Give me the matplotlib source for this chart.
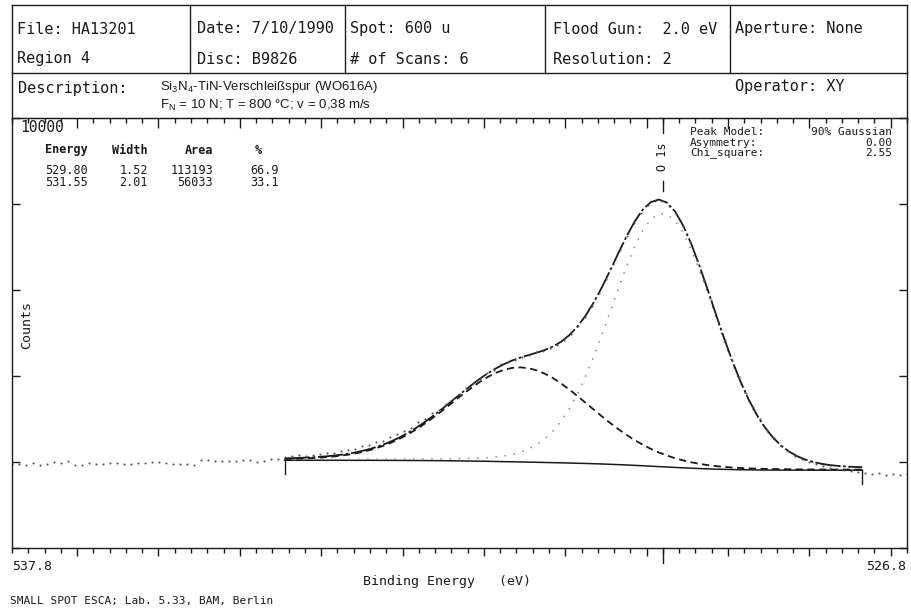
import numpy as np
import matplotlib
matplotlib.use('Agg')
import matplotlib.pyplot as plt
from matplotlib.ticker import MultipleLocator

W, H = 911, 612
MONO = 'DejaVu Sans Mono'
SANS = 'Liberation Sans'

# ---- header / annotation texts ----
header_row1 = ['File: HA13201', 'Date: 7/10/1990', 'Spot: 600 u', 'Flood Gun:  2.0 eV', 'Aperture: None']
header_row2 = ['Region 4', 'Disc: B9826', '# of Scans: 6', 'Resolution: 2', '']
desc_lines = [r'Si$_\mathregular{3}$N$_\mathregular{4}$-TiN-Verschleißspur (WO616A)',
              r'F$_\mathregular{N}$ = 10 N; T = 800 °C; v = 0,38 m/s']
operator = 'Operator: XY'

peak_energy = [529.80, 531.55]
peak_width = [1.52, 2.01]
peak_area = [113193, 56033]
peak_percent = [66.9, 33.1]
fit_info = [('Peak Model:', '90% Gaussian'), ('Asymmetry:', '0.00'), ('Chi_square:', '2.55')]
peak_name = 'O 1s'

x_range = (537.8, 526.8)
y_top = 10000

# ---- raw spectrum (129 channels, 537.8 -> 526.8 eV) ----
energy = np.linspace(537.8, 526.8, 129)
counts = [
    1960, 1961, 1937, 1984, 1922, 1953, 2000, 1969, 2016, 1937,
    1929, 1976, 1953, 1961, 1969, 1976, 1953, 1961, 1976, 1984,
    1992, 2000, 1984, 1961, 1953, 1945, 1922, 2039, 2047, 2031,
    2016, 2024, 2031, 2039, 2039, 2000, 2031, 2063, 2078,
    2110, 2141, 2157, 2130, 2173, 2180, 2215, 2200, 2260, 2290,
    2310, 2370, 2400, 2470, 2500, 2590, 2650, 2730, 2800, 2920,
    3000, 3130, 3220, 3340, 3470, 3580, 3720, 3840, 3930, 4080,
    4140, 4270, 4330, 4370, 4450, 4500, 4560, 4590, 4650, 4720,
    4830, 4980, 5160, 5370, 5620, 5930, 6250, 6600, 6930, 7260,
    7560, 7800, 7970, 8060, 8060, 7960, 7760, 7480, 7110, 6690,
    6240, 5770, 5290, 4830, 4380, 3970, 3610, 3280, 2990, 2750,
    2550, 2380, 2250, 2150, 2060, 2000, 1950, 1910, 1870, 1840,
    1820, 1790, 1770,
    1740, 1720, 1745, 1700, 1730, 1690, 1710,
]

# ---- fit region (534.45 -> 527.35 eV, 0.1 eV) ----
fit_energy = np.linspace(534.45, 527.35, 72)
background = np.array([
    2040, 2040, 2040, 2040, 2040, 2040, 2040, 2040, 2039, 2039,
    2039, 2039, 2038, 2038, 2037, 2036, 2035, 2034, 2032, 2031,
    2029, 2027, 2024, 2021, 2019, 2016, 2012, 2008, 2005, 2001,
    1997, 1993, 1989, 1985, 1981, 1976, 1971, 1966, 1960, 1954,
    1947, 1939, 1931, 1922, 1913, 1903, 1893, 1883, 1874, 1864,
    1856, 1848, 1840, 1834, 1829, 1824, 1821, 1818, 1816, 1814,
    1813, 1812, 1811, 1811, 1811, 1810, 1810, 1810, 1810, 1810,
    1810, 1810])
comp1 = np.array([
    15, 16, 17, 17, 18, 19, 20, 21, 22, 23,
    25, 26, 27, 29, 31, 32, 35, 37, 40, 42,
    46, 50, 56, 63, 73, 86, 105, 133, 173, 228,
    306, 412, 553, 738, 973, 1265, 1617, 2028, 2493, 3002,
    3539, 4081, 4601, 5071, 5459, 5736, 5882, 5882, 5736, 5459,
    5071, 4601, 4081, 3539, 3002, 2493, 2028, 1617, 1265, 973,
    738, 553, 412, 306, 228, 173, 133, 105, 86, 73,
    63, 56])
comp2 = np.array([
    30, 34, 40, 48, 58, 71, 88, 109, 137, 172,
    214, 267, 329, 404, 491, 591, 703, 828, 963, 1107,
    1258, 1411, 1563, 1709, 1844, 1964, 2063, 2138, 2184, 2200,
    2184, 2138, 2063, 1964, 1844, 1709, 1563, 1411, 1258, 1107,
    963, 828, 703, 591, 491, 404, 329, 267, 214, 172,
    137, 109, 88, 71, 58, 48, 40, 34, 30, 26,
    24, 22, 20, 18, 17, 16, 15, 14, 14, 13,
    12, 12])
envelope = background + comp1 + comp2

ink = '#1a1a1a'
fig = plt.figure(figsize=(W / 100, H / 100), dpi=100)

# overlay in pixel coordinates for the printed header and footer
over = fig.add_axes([0, 0, 1, 1])
over.set_xlim(0, W)
over.set_ylim(H, 0)
over.axis('off')

# header frame
lw = 1.0
over.plot([12, 907], [5, 5], color=ink, lw=lw)
over.plot([12, 907], [73, 73], color=ink, lw=lw)
over.plot([12, 12], [5, 118], color=ink, lw=lw)
over.plot([907, 907], [5, 118], color=ink, lw=lw)
for xd in [190, 345, 545, 730]:
    over.plot([xd, xd], [5, 73], color=ink, lw=lw)

for xl, t1, t2 in zip([17, 197, 350, 553, 735], header_row1, header_row2):
    over.text(xl, 29, t1, family=MONO, fontsize=11, va='center', color=ink)
    over.text(xl, 59, t2, family=MONO, fontsize=11, va='center', color=ink)
over.text(18, 88, 'Description:', family=MONO, fontsize=11, va='center', color=ink)
over.text(160, 87, desc_lines[0], family=SANS, fontsize=9.5, va='center', color=ink)
over.text(160, 105, desc_lines[1], family=SANS, fontsize=9.5, va='center', color=ink)
over.text(735, 86, operator, family=MONO, fontsize=11, va='center', color=ink)

# peak table
tf = 8.5
over.text(20, 128, f'{y_top}', family=MONO, fontsize=10.5, va='center', color=ink)
over.text(45, 150, 'Energy', family=MONO, fontsize=tf, va='center', weight='bold', color=ink)
over.text(148, 150, 'Width', family=MONO, fontsize=tf, va='center', ha='right', weight='bold', color=ink)
over.text(213, 150, 'Area', family=MONO, fontsize=tf, va='center', ha='right', weight='bold', color=ink)
over.text(258, 150, '%', family=MONO, fontsize=tf, va='center', ha='center', weight='bold', color=ink)
for k in range(len(peak_energy)):
    yy = 171 + k * 12
    over.text(45, yy, f'{peak_energy[k]:.2f}', family=MONO, fontsize=tf, va='center', color=ink)
    over.text(148, yy, f'{peak_width[k]:.2f}', family=MONO, fontsize=tf, va='center', ha='right', color=ink)
    over.text(213, yy, f'{peak_area[k]}', family=MONO, fontsize=tf, va='center', ha='right', color=ink)
    over.text(279, yy, f'{peak_percent[k]:.1f}', family=MONO, fontsize=tf, va='center', ha='right', color=ink)
for k, (lab, val) in enumerate(fit_info):
    yy = 132 + k * 10.5
    over.text(690, yy, lab, family=MONO, fontsize=8, va='center', color=ink)
    over.text(892, yy, val, family=MONO, fontsize=8, va='center', ha='right', color=ink)

# footer
over.text(12, 566, f'{x_range[0]:.1f}', family=MONO, fontsize=9.5, va='center', color=ink)
over.text(906, 566, f'{x_range[1]:.1f}', family=MONO, fontsize=9.5, va='center', ha='right', color=ink)
over.text(447, 581, 'Binding Energy   (eV)', family=MONO, fontsize=9.5, va='center', ha='center', color=ink)
over.text(10, 601, 'SMALL SPOT ESCA; Lab. 5.33, BAM, Berlin', family=MONO, fontsize=8, va='center', color=ink)
over.text(27, 325, 'Counts', family=MONO, fontsize=9.5, va='center', ha='center', rotation=90, color=ink)

# ---- spectrum axes ----
ax = fig.add_axes([12 / W, 1 - 548 / H, 895 / W, 430 / H])
ax.set_xlim(*x_range)
ax.set_ylim(0, y_top)
ax.patch.set_alpha(0)

ax.plot(fit_energy, background, color=ink, lw=1.1)
ax.plot(fit_energy, background + comp1, color='#8a8a8a', lw=1.1, ls=(0, (1, 5)))
ax.plot(fit_energy, background + comp2, color=ink, lw=1.3, ls=(0, (4, 2.5)))
ax.plot(fit_energy, envelope, color=ink, lw=1.3, ls=(0, (14, 1.5, 1.5, 1.5)))
ax.plot(energy, counts, ls='none', marker='o', ms=1.5, mew=0, color='#555555')

# fit region end markers
for e, b in [(fit_energy[0], background[0]), (fit_energy[-1], background[-1])]:
    ax.plot([e, e], [b, b - 330], color=ink, lw=1.0)

# peak label
top = envelope.max()
ax.plot([peak_energy[0]] * 2, [top + 200, top + 430], color=ink, lw=1.0)
ax.text(peak_energy[0], top + 1000, peak_name, rotation=90, ha='center', va='center',
        family=MONO, fontsize=8.5, color=ink)

# long position ticks at the main peak, top and bottom
tr = ax.get_xaxis_transform()
ax.plot([peak_energy[0]] * 2, [1, 0.965], transform=tr, color=ink, lw=1.0, clip_on=False)
ax.plot([peak_energy[0]] * 2, [0, -0.035], transform=tr, color=ink, lw=1.0, clip_on=False)

for s in ax.spines.values():
    s.set_color(ink)
    s.set_linewidth(1.0)

ax.xaxis.set_major_locator(MultipleLocator(1))
ax.xaxis.set_minor_locator(MultipleLocator(0.2))
ax.tick_params(axis='x', which='both', direction='out', bottom=True, top=False,
               labelbottom=False, color=ink, width=1.0)
ax.tick_params(axis='x', which='major', length=6)
ax.tick_params(axis='x', which='minor', length=3.5)

sec = ax.secondary_xaxis('top')
sec.xaxis.set_major_locator(MultipleLocator(1))
sec.xaxis.set_minor_locator(MultipleLocator(0.2))
sec.tick_params(axis='x', which='both', direction='in', labeltop=False, color=ink, width=1.0)
sec.tick_params(axis='x', which='major', length=7)
sec.tick_params(axis='x', which='minor', length=3.5)
sec.spines['top'].set_color(ink)

ax.yaxis.set_major_locator(MultipleLocator(2000))
ax.tick_params(axis='y', which='major', direction='in', left=True, right=True,
               labelleft=False, length=6, color=ink, width=1.0)

fig.savefig('out.png', dpi=100)
